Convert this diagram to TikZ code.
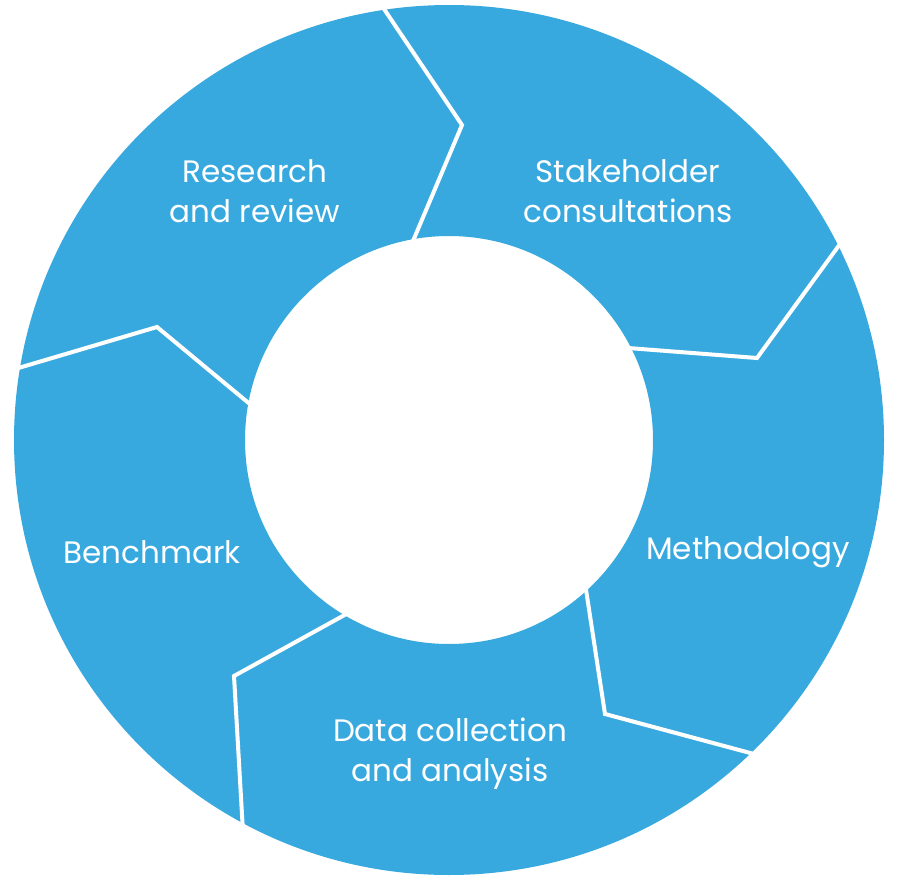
\documentclass[tikz,border=0pt]{standalone}
\usepackage{fontspec}
\setmainfont{Poppins}
\usepackage{tikz}
\usetikzlibrary{positioning, calc}
\definecolor{RingBlue}{RGB}{56, 169, 222}

\begin{document}
\begin{tikzpicture}[
            x=1pt, y=-1pt,
            ring/.style={fill=RingBlue, even odd rule},
            gap/.style={draw=white, line width=4pt, line join=miter},
            label/.style={text=white, align=center, font=\fontsize{31}{40}\selectfont}
        ]
            \useasboundingbox[fill=white] (0,0) rectangle (900,883);
            \coordinate (c) at (449,440);

            % ring
            \fill[ring] (c) circle[radius=435pt] (c) circle[radius=204pt];

            % chevron gaps between the steps
            \draw[gap] (413,241) -- (462,125) -- (380,3);
            \draw[gap] (628,348) -- (757,358) -- (840,244);
            \draw[gap] (585,583) -- (605,714) -- (754,754);
            \draw[gap] (350,612) -- (234,676) -- (243,832);
            \draw[gap] (251,405) -- (157,327) -- (15,369);

            % step labels
            \node[label] (research) at (255,191) {Research\\and review};
            \node[label] (stake) at (628,191) {Stakeholder\\consultations};
            \node[label] (method) at (748,552) {Methodology};
            \node[label] (data) at (450,754) {Data collection\\and analysis};
            \node[label] (bench) at (152,552) {Benchmark};
        \end{tikzpicture}
\end{document}
